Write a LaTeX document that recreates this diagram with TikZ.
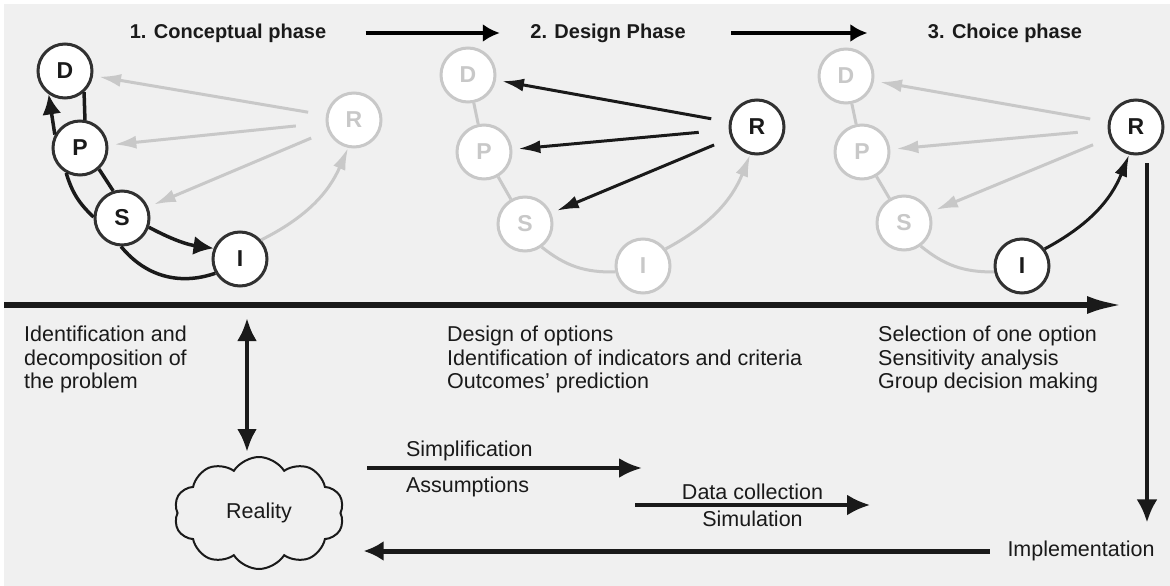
\documentclass[tikz,border=0pt]{standalone}
\usepackage{fontspec}
\setmainfont{Liberation Sans}
\usepackage{tikz}
\usetikzlibrary{arrows.meta, shapes.symbols}
\tikzset{>={Latex[width=19pt,length=20pt]}}
\definecolor{paper}{HTML}{F0F0F0}
\definecolor{pale}{HTML}{C8C8C8}
\definecolor{ink}{HTML}{1A1A1A}

\tikzset{
  ball/.style={circle, draw=ink!90, line width=3pt, fill=white, minimum size=54pt,
    inner sep=0pt, text=ink, font=\fontsize{23}{27}\selectfont\bfseries},
  ghost/.style={ball, draw=pale, text=pale},
  link/.style={draw=ink, line width=3.5pt},
  palelink/.style={draw=pale, line width=3pt},
  narrowhead/.style={-{Latex[width=13pt,length=22pt]}},
  ray/.style={narrowhead, shorten <=18pt, shorten >=6pt},
  title/.style={text=ink, font=\fontsize{20}{24}\selectfont\bfseries},
  body/.style={text=ink, font=\fontsize{21.5}{23.5}\selectfont},
  note/.style={body, anchor=north west, align=left, inner sep=0pt}
}

\begin{document}
\begin{tikzpicture}[x=1pt, y=1pt]
    \useasboundingbox (0,0) rectangle (1170,-586);
    \fill[paper] (4,-4) rectangle (1170,-586);

    % phase titles
    \node[title] (T1) at (228,-33) {1. Conceptual phase};
    \node[title] (T2) at (608,-33) {2. Design Phase};
    \node[title] (T3) at (1005,-33) {3. Choice phase};
    \draw[line width=4pt, -{Latex[length=17pt,width=18pt]}, shorten <=36pt, shorten >=27pt] (T1) -- (T2);
    \draw[line width=4pt, -{Latex[length=17pt,width=18pt]}, shorten <=42pt, shorten >=57pt] (T2) -- (T3);

    % phase 1
    \node[ball] (D1) at (65,-71) {D};
    \node[ball] (P1) at (80,-148) {P};
    \node[ball] (S1) at (122,-218) {S};
    \node[ball] (I1) at (240,-259) {I};
    \node[ghost] (R1) at (354,-120) {R};

    \draw[link] (D1.-48) -- (P1.80);
    \draw[link, ->] (P1.152) -- (D1.-125);
    \draw[link] (P1.-48) -- (S1.108);
    \draw[link] (P1.-119) to[bend right=15] (S1.178);
    \draw[link, ->] (S1.-19) to[bend right=10] (I1.158);
    \draw[link] (S1.-92) to[bend right=35] (I1.-150);
    \draw[palelink, narrowhead] (I1.42) to[bend right=20] (R1.-102);
    \draw[palelink, ray] (R1) -- (D1);
    \draw[palelink, ray, shorten <=30pt] (R1) -- (P1);
    \draw[palelink, ray] (R1) -- (S1);

    % phase 2
    \node[ghost] (D2) at (468,-75) {D};
    \node[ghost] (P2) at (484,-152) {P};
    \node[ghost] (S2) at (525,-224) {S};
    \node[ghost] (I2) at (643,-266) {I};
    \node[ball] (R2) at (757,-127) {R};

    \draw[palelink] (D2) -- (P2);
    \draw[palelink] (P2) -- (S2);
    \draw[palelink] (S2.-54) to[bend right=20] (I2.192);
    \draw[palelink, narrowhead] (I2.37) to[bend right=20] (R2.-104);
    \draw[link, line width=3pt, ray] (R2) -- (D2);
    \draw[link, line width=3pt, ray, shorten <=30pt] (R2) -- (P2);
    \draw[link, line width=3pt, ray] (R2) -- (S2);

    % phase 3
    \node[ghost] (D3) at (846,-76) {D};
    \node[ghost] (P3) at (862,-152) {P};
    \node[ghost] (S3) at (904,-223) {S};
    \node[ball] (I3) at (1022,-266) {I};
    \node[ball] (R3) at (1136,-127) {R};

    \draw[palelink] (D3) -- (P3);
    \draw[palelink] (P3) -- (S3);
    \draw[palelink] (S3.-54) to[bend right=20] (I3.192);
    \draw[link, line width=3pt, narrowhead] (I3.37) to[bend right=20] (R3.-104);
    \draw[palelink, ray] (R3) -- (D3);
    \draw[palelink, ray, shorten <=30pt] (R3) -- (P3);
    \draw[palelink, ray] (R3) -- (S3);

    % time axis
    \coordinate (axis-s) at (4,-305);
    \coordinate (axis-e) at (1123,-305);
    \draw[draw=ink, line width=5.5pt, -{Latex[length=36pt,width=18pt]}] (axis-s) -- (axis-e);

    \node[note] (N1) at (24,-326) {Identification and\\decomposition of\\the problem};
    \node[note] (N2) at (447,-326) {Design of options\\Identification of indicators and criteria\\Outcomes' prediction};
    \node[note] (N3) at (878,-326) {Selection of one option\\Sensitivity analysis\\Group decision making};

    % reality loop
    \node[cloud, cloud puffs=10, cloud puff arc=115, cloud ignores aspect, draw=ink, line width=2pt,
      minimum width=170pt, minimum height=112pt, inner sep=0pt, body] (Real) at (259,-513) {Reality};
    \node[body] (Impl) at (1081,-551) {Implementation};

    \coordinate (link-top) at (247,-318);
    \draw[draw=ink, line width=4.5pt, {Latex[length=23pt,width=20pt]}-{Latex[length=23pt,width=20pt]}, shorten >=4pt]
      (link-top) -- (link-top |- Real.north);

    \coordinate (simp-s) at (367,-468);
    \coordinate (simp-e) at (642,-468);
    \draw[draw=ink, line width=4pt, -{Latex[length=23pt,width=20pt]}] (simp-s) -- (simp-e)
      node[body, anchor=base west, inner sep=0pt] at (404,-456) {Simplification}
      node[body, anchor=base west, inner sep=0pt] at (404,-492) {Assumptions};

    \coordinate (data-s) at (635,-505);
    \coordinate (data-e) at (870,-505);
    \draw[draw=ink, line width=3.5pt, -{Latex[length=23pt,width=21pt]}] (data-s) -- (data-e)
      node[body, midway, above, inner sep=4pt] {Data collection}
      node[body, midway, below, inner sep=4pt] {Simulation};

    \coordinate (drop) at (1147,-163);
    \draw[draw=ink, line width=4pt, -{Latex[length=23pt,width=21pt]}, shorten >=15pt] (drop) -- (drop |- Impl.north);
    \draw[draw=ink, line width=5pt, -{Latex[length=20pt,width=20pt]}, shorten <=14pt, shorten >=22pt]
      (Impl.west) -- (Impl.west -| Real.east);

\end{tikzpicture}
\end{document}
